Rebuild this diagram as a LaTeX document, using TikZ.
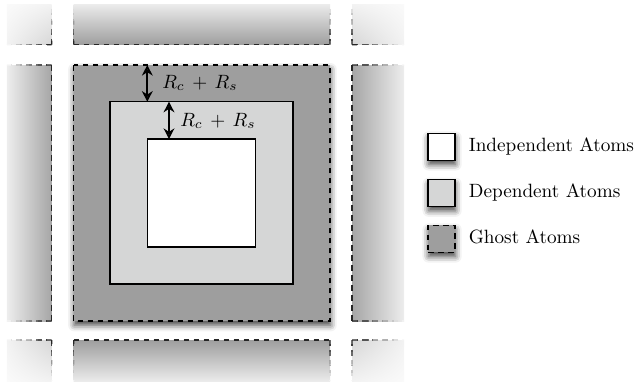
\documentclass[tikz,border=0pt]{standalone}
\usetikzlibrary{positioning, calc, arrows.meta, shadings, shadows.blur}
\definecolor{cghost}{RGB}{158,158,158}
\definecolor{cdep}{RGB}{213,214,214}

% dashed edge that fades from #1 (dark) to #2 (light), #3 = length in px
\newcommand\fadedash[3]{%
  \foreach \i in {0,...,9}{%
    \pgfmathtruncatemacro\tone{85-9*\i}
    \pgfmathsetmacro\ta{\i/10}
    \pgfmathsetmacro\tb{(\i+1)/10}
    \pgfmathsetmacro\ph{\i*#3/10*0.52}
    \draw[edgeline, draw=black!\tone, dash phase=\ph pt] ($#1!\ta!#2$) -- ($#1!\tb!#2$);
  }}

\begin{document}
\begin{tikzpicture}[x=0.52pt, y=-0.52pt,
    edgeline/.style={line width=0.6pt, dash pattern=on 3pt off 2.2pt},
    ghost/.style={fill=cghost, draw, line width=0.6pt, dash pattern=on 3pt off 2.2pt},
    dependent/.style={fill=cdep, draw, line width=0.6pt},
    independent/.style={fill=white, draw, line width=0.6pt},
    dropshadow/.style={blur shadow={shadow xshift=0.3pt, shadow yshift=-2.2pt, shadow blur radius=3.2pt, shadow opacity=75}},
    key/.style={minimum size=14pt, inner sep=0pt, outer sep=0pt, dropshadow},
    keytext/.style={inner sep=0pt, anchor=west, text height=1.6ex, text depth=0.45ex},
    gap/.style={{Stealth[length=5.5pt, width=5.6pt]}-{Stealth[length=5.5pt, width=5.6pt]}, line width=1pt}]

  \useasboundingbox (0,0) rectangle (636,383);

  % --- periodic images (shaded) ---
  \shade[top color=black!8, bottom color=black!38] (73.7,4.5) rectangle (330,44.7);
  \shade[top color=black!38, bottom color=black!8] (73.7,340) rectangle (330,381);
  \shade[left color=black!7, right color=black!35] (7,65) rectangle (51.7,321);
  \shade[left color=black!35, right color=black!7] (352,65) rectangle (404,321);
  \shade[upper left=black!2, upper right=black!5, lower left=black!5, lower right=black!16] (7,4.5) rectangle (51.7,44.7);
  \shade[upper left=black!5, upper right=black!2, lower left=black!16, lower right=black!5] (352,4.5) rectangle (404,44.7);
  \shade[upper left=black!5, upper right=black!16, lower left=black!2, lower right=black!5] (7,340) rectangle (51.7,381);
  \shade[upper left=black!16, upper right=black!5, lower left=black!5, lower right=black!2] (352,340) rectangle (404,381);

  % --- edges of the images ---
  \draw[edgeline, draw=black!85] (73.7,44.7) -- (330,44.7);
  \draw[edgeline, draw=black!85] (73.7,340) -- (330,340);
  \draw[edgeline, draw=black!85] (51.7,65) -- (51.7,321);
  \draw[edgeline, draw=black!85] (352,65) -- (352,321);
  \fadedash{(73.7,44.7)}{(73.7,4.5)}{40}
  \fadedash{(330,44.7)}{(330,4.5)}{40}
  \fadedash{(73.7,340)}{(73.7,381)}{41}
  \fadedash{(330,340)}{(330,381)}{41}
  \fadedash{(51.7,65)}{(7,65)}{45}
  \fadedash{(51.7,321)}{(7,321)}{45}
  \fadedash{(352,65)}{(404,65)}{52}
  \fadedash{(352,321)}{(404,321)}{52}
  \fadedash{(51.7,44.7)}{(51.7,4.5)}{40}
  \fadedash{(51.7,44.7)}{(7,44.7)}{45}
  \fadedash{(352,44.7)}{(352,4.5)}{40}
  \fadedash{(352,44.7)}{(404,44.7)}{52}
  \fadedash{(51.7,340)}{(51.7,381)}{41}
  \fadedash{(51.7,340)}{(7,340)}{45}
  \fadedash{(352,340)}{(352,381)}{41}
  \fadedash{(352,340)}{(404,340)}{52}

  % --- cell: ghost { dependent { independent } } ---
  \draw[ghost, dropshadow] (73.7,65) rectangle (330,321);
  \draw[dependent] (110,101.7) rectangle (293,284);
  \draw[independent] (147.7,139) rectangle (255.7,247);

  \coordinate (g1) at (147.3,65);
  \coordinate (d1) at (147.3,101.7);
  \coordinate (d2) at (169,101.7);
  \coordinate (i2) at (169,139);
  \draw[gap] (g1) -- (d1);
  \draw[gap] (d2) -- (i2);
  \node[anchor=base west, inner sep=0pt] (rg) at (162,88) {$R_c \,+\, R_s$};
  \node[anchor=base west, inner sep=0pt] (rd) at (180,126) {$R_c \,+\, R_s$};

  % --- legend ---
  \node[key, independent] (kind) at (441.5,146.7) {};
  \node[key, dependent] (kdep) at (441.5,193) {};
  \node[key, ghost] (kgh) at (441.5,238.8) {};
  \node[keytext, right=7pt of kind] (tind) {Independent Atoms};
  \node[keytext, right=7pt of kdep] (tdep) {Dependent Atoms};
  \node[keytext, right=7pt of kgh] (tgh) {Ghost Atoms};
\end{tikzpicture}
\end{document}
